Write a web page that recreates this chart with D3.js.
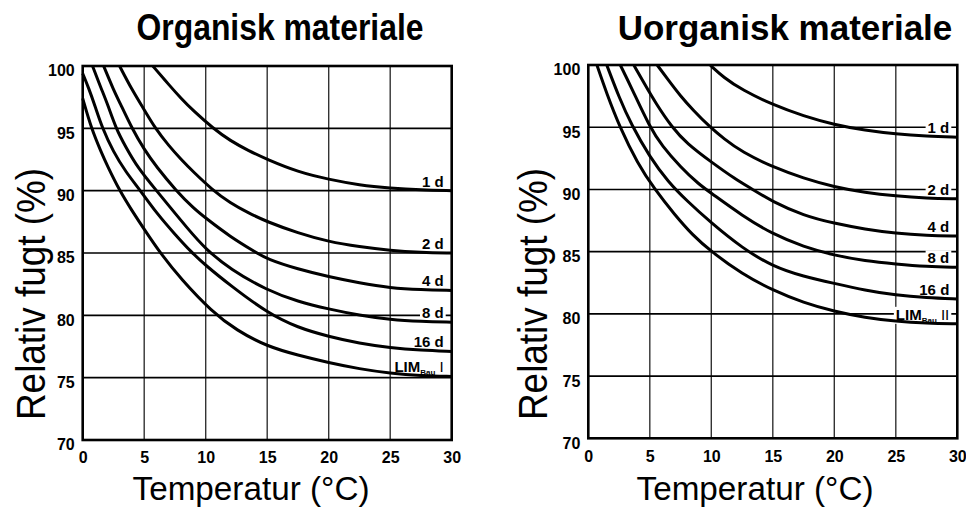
<!DOCTYPE html>
<html>
<head>
<meta charset="utf-8">
<script src="https://cdn.jsdelivr.net/npm/d3@7"></script>
<style>
  body { margin: 0; background: #fff; }
  svg { display: block; }
</style>
</head>
<body>
<div id="chart"></div>
<script>
// axis ticks
const tempTicks = [0, 5, 10, 15, 20, 25, 30];
const rhTicks = [70, 75, 80, 85, 90, 95, 100];
const curveNames = ["1 d", "2 d", "4 d", "8 d", "16 d", "LIM"];

// Organisk materiale: [temperatur, relativ fugt]
const org1d = [[5.7,100],[7,98.5],[8,97.4],[9,96.4],[10.6,95],[12,94.0],[13.5,93.2],[15,92.5],[17.5,91.5],[20,90.9],[22.5,90.45],[25,90.2],[27.5,90.05],[30,90.0]];
const org2d = [[3.0,100],[4,98.1],[5,96.5],[5.9,95],[7,93.6],[8,92.5],[9,91.5],[10.5,90.1],[12,89.0],[13.5,88.2],[15,87.5],[17.5,86.6],[20,85.9],[22.5,85.5],[25,85.2],[27.5,85.05],[30,85.0]];
const org4d = [[1.7,100],[2.5,98.1],[3,97.1],[4,95],[5,93.3],[6,91.9],[7.6,90],[9,88.6],[10,87.8],[12,86.3],[14,85.1],[15,84.5],[17.5,83.7],[20,83.1],[22.5,82.6],[25,82.2],[27.5,82.05],[30,82.0]];
const org8d = [[0.8,100],[1.5,98.2],[2,97],[2.7,95],[3.5,93.5],[4.5,91.8],[6,90],[7,88.8],[8.5,87.0],[10,85.3],[12,83.7],[15,82.0],[17.5,81.1],[20,80.5],[22.5,80.0],[25,79.65],[27.5,79.5],[30,79.45]];
const org16d = [[0,99.4],[0.5,98.2],[1,96.8],[1.6,95],[2.5,93.1],[3.5,91.5],[4.7,90],[6,88.2],[7.5,86.5],[8.8,85.1],[10,84.0],[12,82.4],[15,80.2],[17.5,79.0],[20,78.3],[22.5,77.75],[25,77.4],[27.5,77.2],[30,77.1]];
const orgLim = [[0,97.4],[0.7,95],[1.5,93.1],[2,92.0],[3,90],[4,88.4],[5,86.9],[6.3,85],[8,82.9],[10.5,80.3],[12.5,78.8],[15,77.5],[17.5,76.8],[20,76.2],[22.5,75.7],[25,75.35],[27.5,75.15],[30,75.1]];

// Uorganisk materiale
const uorg1d = [[9.9,100],[11,99.0],[12.5,98.0],[15,96.8],[17.5,95.9],[20,95.2],[22.5,94.75],[25,94.45],[27.5,94.28],[30,94.2]];
const uorg2d = [[5.6,100],[6.5,98.8],[7.5,97.5],[8.5,96.4],[9.9,95],[11,94.1],[12.5,93.0],[15,91.8],[17.5,90.9],[20,90.2],[22.5,89.75],[25,89.47],[27.5,89.3],[30,89.25]];
const uorg4d = [[3.7,100],[4.5,98.6],[5.5,96.9],[6.8,95],[8,93.7],[10,92.2],[12,90.8],[13.2,90.1],[15,89.0],[17.5,87.9],[20,87.27],[22.5,86.8],[25,86.47],[27.5,86.3],[30,86.25]];
const uorg8d = [[2.6,100],[3.5,98.2],[5,95],[6,93.5],[7.5,91.8],[9,90.4],[10,89.7],[12.5,87.9],[15,86.4],[17.5,85.4],[20,84.7],[22.5,84.25],[25,84.0],[27.5,83.8],[30,83.74]];
const uorg16d = [[1.5,100],[2.5,97.4],[3.5,95.2],[5,92.6],[6.5,90.6],[8,89.1],[10,87.3],[12.5,85.3],[15,83.8],[17.5,83.0],[20,82.45],[22.5,81.9],[25,81.5],[27.5,81.3],[30,81.2]];
const uorgLim = [[0.7,100],[1.5,97.7],[2.56,95],[4,92.1],[5.4,90],[7,88.0],[8.5,86.3],[10,85],[12.5,83.2],[15,81.9],[17.5,80.9],[20,80.2],[22.5,79.7],[25,79.4],[27.5,79.25],[30,79.2]];

const font = "'Liberation Sans', Arial, Helvetica, sans-serif";

const svg = d3.select("#chart").append("svg")
    .attr("width", 966)
    .attr("height", 509)
    .style("font-family", font);

const panels = [
  {title: "Organisk materiale", titleX: 280, titleSize: 36, titleLen: 287, left: 82.7, right: 451.7, top: 66, bottom: 440,
   yLabelX: 45, xLabelX: 251, limSuffix: " I", curves: [org1d, org2d, org4d, org8d, org16d, orgLim]},
  {title: "Uorganisk materiale", titleX: 785, titleSize: 35, titleLen: null, left: 588.3, right: 957.3, top: 65, bottom: 438.3,
   yLabelX: 547, xLabelX: 755, limSuffix: " II", curves: [uorg1d, uorg2d, uorg4d, uorg8d, uorg16d, uorgLim]}
];

panels.forEach(drawPanel);

function drawPanel(p) {
  const x = d3.scaleLinear().domain([0, 30]).range([p.left, p.right]);
  const y = d3.scaleLinear().domain([70, 100]).range([p.bottom, p.top]);
  const g = svg.append("g");

  // grid
  g.selectAll(".vgrid").data(tempTicks.slice(1, -1)).join("line")
      .attr("x1", d => x(d)).attr("x2", d => x(d))
      .attr("y1", y(100)).attr("y2", y(70))
      .attr("stroke", "#333").attr("stroke-width", 1.4);
  g.selectAll(".hgrid").data(rhTicks.slice(1, -1)).join("line")
      .attr("x1", x(0)).attr("x2", x(30))
      .attr("y1", d => y(d)).attr("y2", d => y(d))
      .attr("stroke", "#000").attr("stroke-width", 1.6);

  // frame
  g.append("rect")
      .attr("x", x(0)).attr("y", y(100))
      .attr("width", x(30) - x(0)).attr("height", y(70) - y(100))
      .attr("fill", "none").attr("stroke", "#000").attr("stroke-width", 2.6);

  // axes
  const xAxis = g.append("g")
      .attr("transform", `translate(0,${y(70)})`)
      .call(d3.axisBottom(x).tickValues(tempTicks).tickSize(0).tickPadding(12));
  const yAxis = g.append("g")
      .attr("transform", `translate(${x(0)},0)`)
      .call(d3.axisLeft(y).tickValues(rhTicks).tickSize(0).tickPadding(8));
  [xAxis, yAxis].forEach(a => {
    a.select(".domain").remove();
    a.attr("font-family", font).attr("font-size", 16).attr("font-weight", "bold");
    a.selectAll("text").attr("fill", "#000");
  });
  yAxis.selectAll("text").attr("dy", "0.62em");

  // label backgrounds go under the curves, label text on top
  const labels = g.append("g");
  const line = d3.line()
      .x(d => x(d[0]))
      .y(d => y(d[1]))
      .curve(d3.curveBasis);
  const curveGroup = g.append("g");
  p.curves.forEach(c => {
    curveGroup.append("path")
        .datum(c)
        .attr("d", line)
        .attr("fill", "none")
        .attr("stroke", "#000")
        .attr("stroke-width", 3);
  });

  const textGroup = g.append("g");
  p.curves.forEach((c, i) => {
    const last = c[c.length - 1];
    const t = textGroup.append("text")
        .attr("x", x(30) - 8)
        .attr("y", y(last[1]) - 4)
        .attr("text-anchor", "end")
        .attr("font-size", 15)
        .attr("font-weight", "bold");
    if (curveNames[i] === "LIM") {
      t.append("tspan").text("LIM");
      t.append("tspan").attr("font-size", 8).attr("dy", 3).text("Bau");
      t.append("tspan").attr("dy", -3).attr("font-weight", "normal").text(p.limSuffix);
    } else {
      t.text(curveNames[i]);
    }
    const bb = t.node().getBBox();
    labels.append("rect")
        .attr("x", bb.x - 2).attr("y", bb.y + 1)
        .attr("width", bb.width + 4).attr("height", bb.height - 2)
        .attr("fill", "#fff");
  });

  // titles
  const title = svg.append("text")
      .attr("x", p.titleX).attr("y", 40)
      .attr("text-anchor", "middle")
      .attr("font-size", p.titleSize).attr("font-weight", "bold")
      .text(p.title);
  if (p.titleLen) {
    title.attr("textLength", p.titleLen).attr("lengthAdjust", "spacingAndGlyphs");
  }

  svg.append("text")
      .attr("transform", `translate(${p.yLabelX},294) rotate(-90)`)
      .attr("text-anchor", "middle")
      .attr("font-size", 40)
      .attr("textLength", 252).attr("lengthAdjust", "spacingAndGlyphs")
      .text("Relativ fugt (%)");

  svg.append("text")
      .attr("x", p.xLabelX).attr("y", 500)
      .attr("text-anchor", "middle")
      .attr("font-size", 34)
      .attr("textLength", 237).attr("lengthAdjust", "spacingAndGlyphs")
      .text("Temperatur (°C)");
}
</script>
</body>
</html>
